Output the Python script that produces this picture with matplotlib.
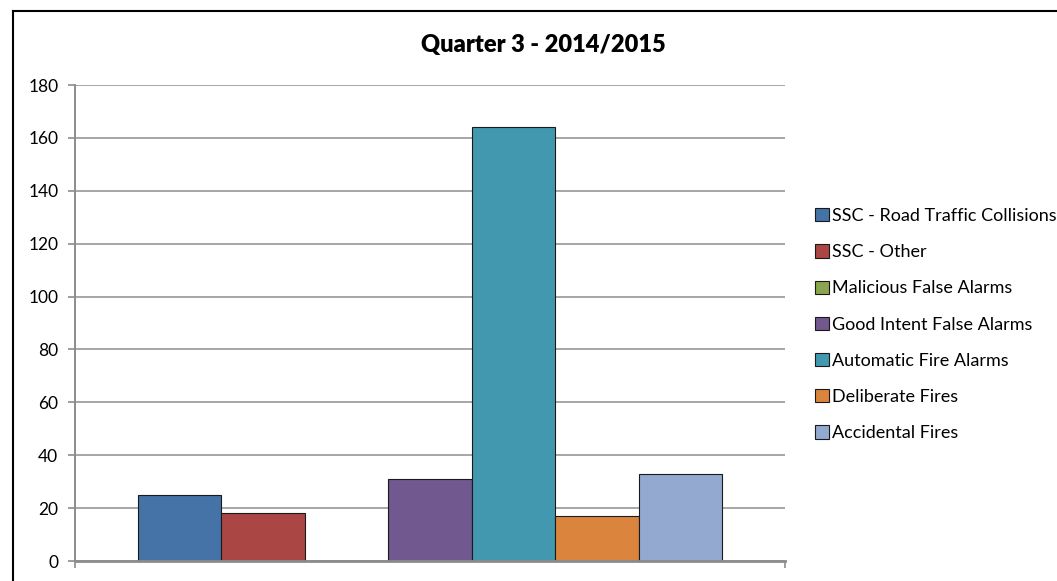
import numpy as np
import matplotlib.pyplot as plt
from matplotlib.lines import Line2D

plt.rcParams['font.family'] = ['Lato', 'DejaVu Sans']

### DATA
series = ['SSC - Road Traffic Collisions', 'SSC - Other', 'Malicious False Alarms',
          'Good Intent False Alarms', 'Automatic Fire Alarms', 'Deliberate Fires',
          'Accidental Fires']
values = [25, 18, 0, 31, 164, 17, 33]
colors = ['#4572A7', '#AA4643', '#89A54E', '#71588F', '#4198AF', '#DB843D', '#93A9CF']
title = 'Quarter 3 - 2014/2015'
yticks = list(range(0, 181, 20))

W, H = 1057, 581
fig = plt.figure(figsize=(W/100, H/100), dpi=100)
ax = fig.add_axes([75/W, 1-561/H, (785-75)/W, (561-85)/H])

# one category, gap width 150% -> 0.75 bar on each side
gap = 0.75
x = gap + 0.5 + np.arange(len(values))
for xi, v, c, s in zip(x, values, colors, series):
    ax.bar(xi, v, width=1.0, color=c, edgecolor='#1a1a1a', linewidth=0.8, label=s, zorder=3)

ax.set_xlim(0, len(values) + 2*gap)
ax.set_ylim(0, 180)
ax.set_yticks(yticks)
ax.set_xticks([0, len(values) + 2*gap])
ax.set_xticklabels([])
ax.yaxis.grid(True, color='#a6a6a6', linewidth=1.4, zorder=0)
ax.set_axisbelow(True)
for sp in ['top', 'right']:
    ax.spines[sp].set_visible(False)
ax.spines['left'].set_color('#8c8c8c')
ax.spines['left'].set_linewidth(1.4)
ax.spines['bottom'].set_color('#8c8c8c')
ax.spines['bottom'].set_linewidth(2.0)
ax.spines['bottom'].set_zorder(4)
ax.tick_params(axis='y', direction='out', length=5, width=1.2, color='#8c8c8c',
               labelsize=12.5, pad=7, labelcolor='black')
ax.tick_params(axis='x', direction='out', length=5, width=1.2, color='#8c8c8c')

fig.text(543/W, 1-45/H, title, ha='center', va='center', fontsize=17, fontweight='heavy')

leg = fig.legend(loc='upper left', bbox_to_anchor=(815/W, 1-208/H), frameon=False,
                 fontsize=13, handlelength=0.75, handleheight=0.75, handletextpad=0.2,
                 labelspacing=1.12, borderpad=0, borderaxespad=0)

# outer chart border
fig.add_artist(Line2D([13/W, 13/W], [0, 1-11/H], transform=fig.transFigure, color='black', linewidth=1.5))
fig.add_artist(Line2D([13/W, 1], [1-11/H, 1-11/H], transform=fig.transFigure, color='black', linewidth=1.5))

fig.savefig('out.png', dpi=100)
